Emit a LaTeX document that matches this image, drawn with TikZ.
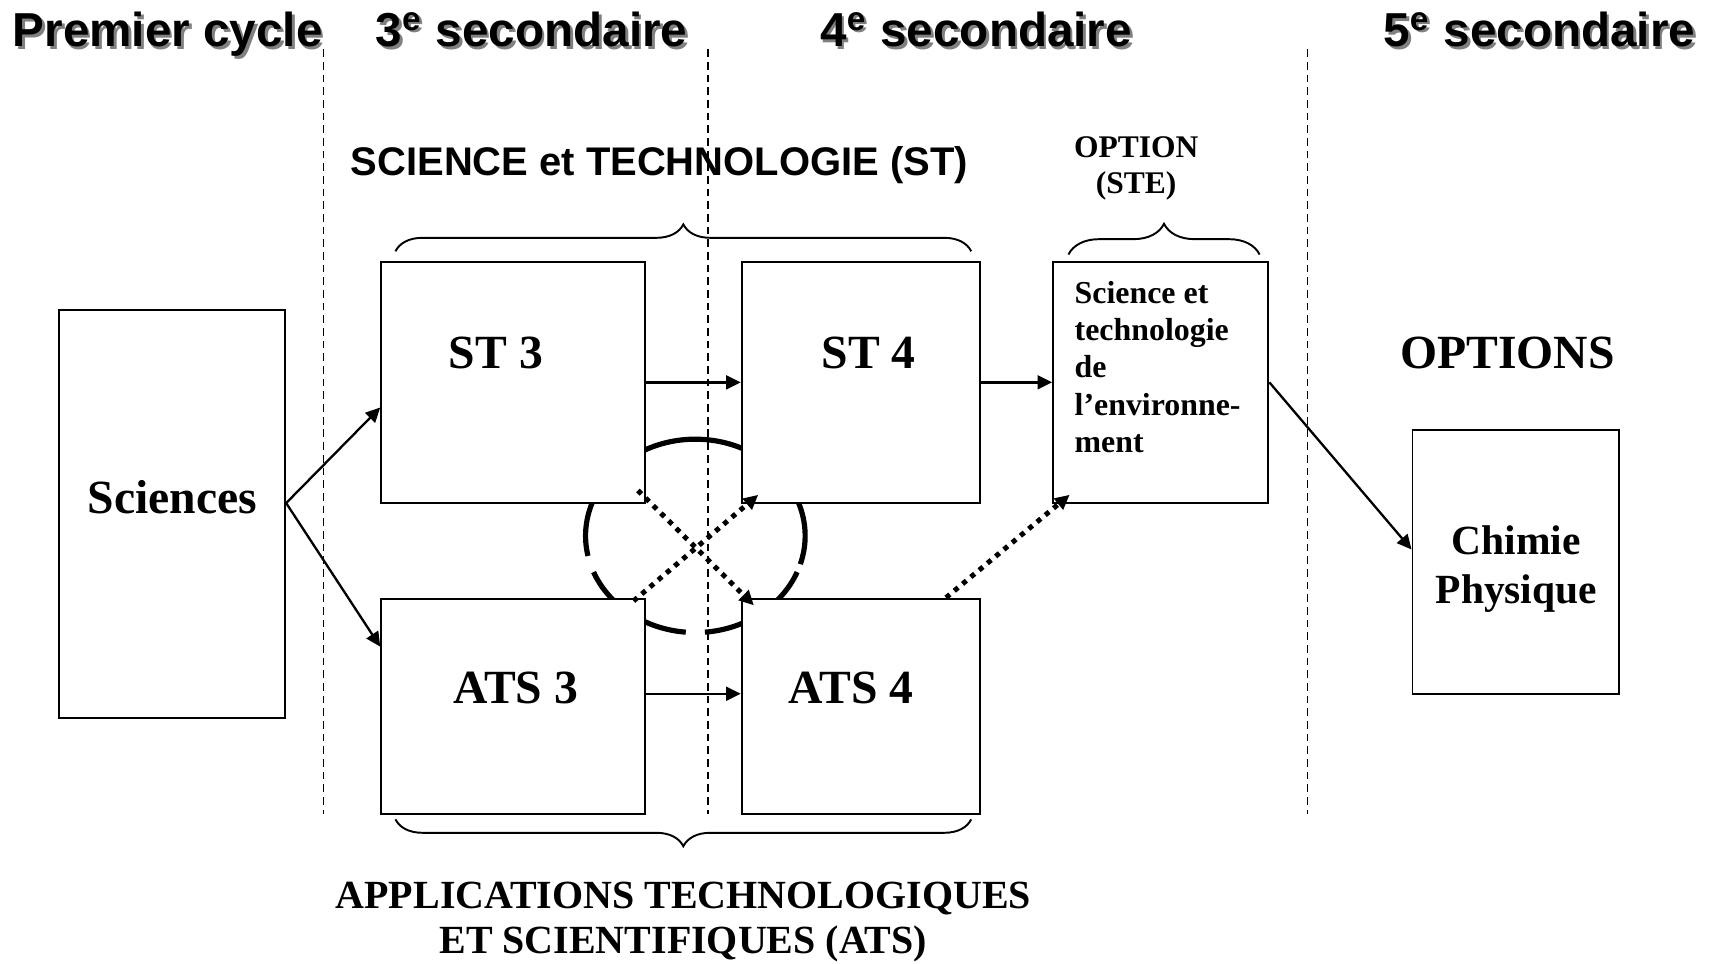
\documentclass[tikz,border=0pt]{standalone}
\usepackage{fontspec}
\setmainfont{Liberation Serif}
\setsansfont{Liberation Sans}
\usetikzlibrary{arrows.meta,calc,decorations.pathreplacing,positioning}
\newcommand{\shadowtext}[1]{\makebox[0pt][l]{\kern0.7pt\raisebox{-0.7pt}{\textcolor{black!50}{#1}}}#1}

\begin{document}
\begin{tikzpicture}[x=0.01cm,y=-0.01cm,>={Triangle[length=3.8pt,width=3.6pt]},
    head/.style={font=\sffamily\bfseries\fontsize{12.4}{14}\selectfont,inner sep=0pt,anchor=base},
    stagebox/.style={draw,line width=0.5pt,fill=white,inner sep=0pt},
    boxtext/.style={font=\bfseries\fontsize{12.4}{14}\selectfont,inner sep=0pt,anchor=base},
    link/.style={->,line width=0.6pt},
    dotlink/.style={->,line width=1.3pt,dash pattern=on 1.3pt off 1.5pt},
    divider/.style={line width=0.4pt,dash pattern=on 2pt off 1.3pt},
    bracket/.style={decorate,decoration={brace,amplitude=7pt},line width=0.5pt},
    ring/.style={line width=1.35pt}]

      \useasboundingbox[fill=white] (0,0) rectangle (1568,882);

      % the years
      \node[head] (h1) at (153.5,43) {\shadowtext{Premier cycle}};
      \node[head] (h2) at (486.5,43) {\shadowtext{3\textsuperscript{e} secondaire}};
      \node[head] (h3) at (893.5,43) {\shadowtext{4\textsuperscript{e} secondaire}};
      \node[head] (h4) at (1409,43) {\shadowtext{5\textsuperscript{e} secondaire}};

      \foreach \x in {296,648,1197}
      \draw [divider] (\x,45) -- (\x,745);

      % the broken ring between 3e and 4e
      \foreach \a in {22,95,...,314}
      \draw [ring] ($(636.5,490.5)+(\a:100.5 and 88.5)$) arc [start angle=\a,delta angle=63,x radius=100.5,y radius=88.5];

      % the boxes
      \node[stagebox,minimum width=2.07cm,minimum height=3.73cm] (sci) at (157.5,470.5) {};
      \node[stagebox,minimum width=2.41cm,minimum height=2.2cm] (st3) at (469.5,350) {};
      \node[stagebox,minimum width=2.18cm,minimum height=2.2cm] (st4) at (788,350) {};
      \node[stagebox,minimum width=2.41cm,minimum height=1.97cm] (ats3) at (469.5,646.5) {};
      \node[stagebox,minimum width=2.18cm,minimum height=1.97cm] (ats4) at (788,646.5) {};
      \node[stagebox,minimum width=1.97cm,minimum height=2.2cm] (ste) at (1062.5,350) {};
      \node[stagebox,minimum width=1.89cm,minimum height=2.41cm] (chim) at (1387.5,514.5) {};

      \node[boxtext] (scitext) at (158,470) {Sciences};
      \node[boxtext] (st3text) at (454,337) {ST 3};
      \node[boxtext] (st4text) at (795,337) {ST 4};
      \node[boxtext] (ats3text) at (472,644) {ATS 3};
      \node[boxtext] (ats4text) at (779,644) {ATS 4};
      \node[font=\bfseries\fontsize{8.3}{9.7}\selectfont,align=left,inner sep=0pt,anchor=base west] (stetext) at (983,414) {Science et\\technologie\\de\\l’environne-\\ment};
      \node[font=\bfseries\fontsize{10.8}{12.8}\selectfont,align=center,inner sep=0pt,anchor=base] (chimtext) at (1388,552.5) {Chimie\\Physique};
      \node[boxtext] (optall) at (1380,337) {OPTIONS};

      % the groups
      \draw [bracket] (362,230) -- (889,230);
      \draw [bracket] (889,750) -- (362,750);
      \draw [bracket,decoration={amplitude=8pt}] (978,233) -- (1153,233);
      \node[font=\sffamily\bfseries\fontsize{10.4}{12}\selectfont,inner sep=0pt,anchor=base] (stlab) at (603.5,161) {SCIENCE et TECHNOLOGIE (ST)};
      \node[font=\bfseries\fontsize{8.2}{9.4}\selectfont,align=center,inner sep=0pt,anchor=base] (optlab) at (1040,177.5) {OPTION\\(STE)};
      \node[font=\bfseries\fontsize{10.4}{11.7}\selectfont,align=center,inner sep=0pt,anchor=base] (atslab) at (625.5,873) {APPLICATIONS TECHNOLOGIQUES\\ET SCIENTIFIQUES (ATS)};

      % the paths
      \draw [link] ([yshift=0.1cm]sci.east) -- ([yshift=-0.23cm]st3.west);
      \draw [link] ([yshift=0.1cm]sci.east) -- ([yshift=0.545cm]ats3.west);
      \draw [link] (st3.east) -- (st4.west);
      \draw [link] (st4.east) -- (ste.west);
      \draw [link] ([yshift=0.115cm]ats3.east) -- ([yshift=0.115cm]ats4.west);
      \draw [link] (ste.east) -- ([yshift=0.115cm]chim.west);

      \draw [dotlink] ($(st3.south east)+(-7,-12)$) -- ($(ats4.north west)+(12,7)$);
      \draw [dotlink] ($(ats3.north east)+(-11,3)$) -- ($(st4.south west)+(16,-8)$);
      \draw [dotlink] ($(ats4.north east)+(-32,0)$) -- ($(ste.south west)+(16,-8)$);

\end{tikzpicture}
\end{document}
